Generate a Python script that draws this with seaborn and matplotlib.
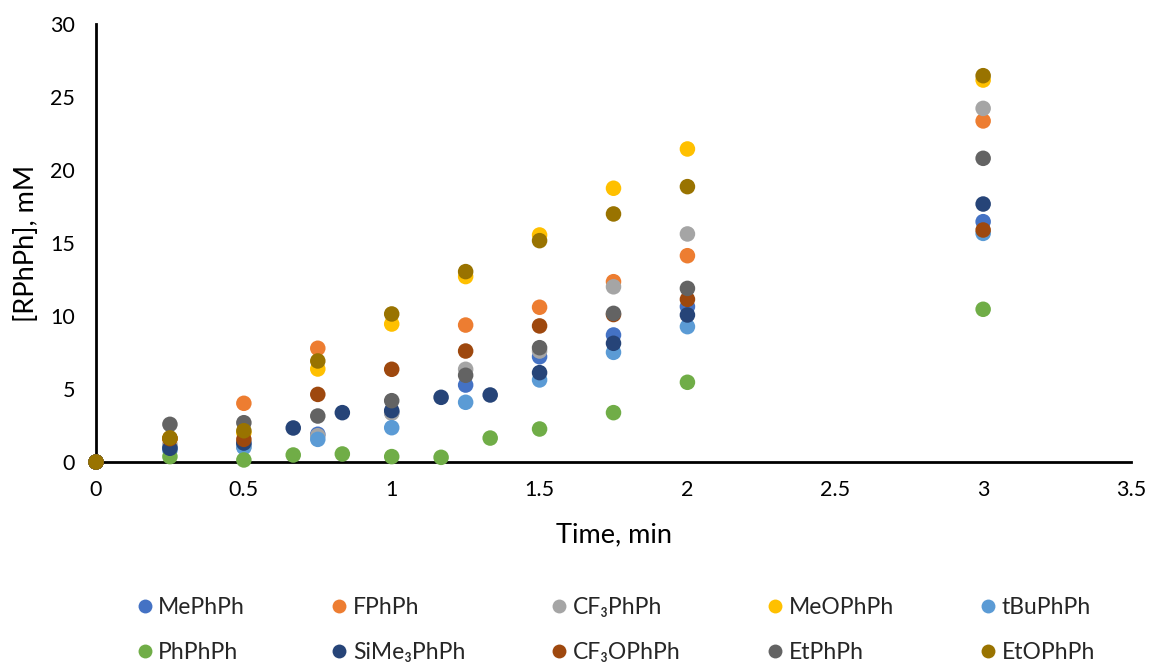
import numpy as np
import pandas as pd
import matplotlib
matplotlib.use("Agg")
import matplotlib.pyplot as plt
import seaborn as sns

# Sampling times (min)
t_main = [0, 0.25, 0.5, 0.75, 1, 1.25, 1.5, 1.75, 2, 3]
t_fine = [0, 0.25, 0.5, 0.667, 0.833, 1, 1.167, 1.333, 1.5, 1.75, 2, 3]

# Product concentrations (mM)
me_phph    = [0, 1.0, 1.2, 1.9, 3.4, 5.27, 7.21, 8.7, 10.64, 16.46]
f_phph     = [0, 1.6, 4.02, 7.79, np.nan, 9.38, 10.6, 12.35, 14.13, 23.36]
cf3_phph   = [0, 1.2, 1.05, 1.8, 3.35, 6.35, 7.6, 12.0, 15.62, 24.22]
meo_phph   = [0, 1.6, 2.0, 6.37, 9.45, 12.7, 15.55, 18.75, 21.44, 26.16]
tbu_phph   = [0, 0.8, 1.0, 1.55, 2.35, 4.09, 5.62, 7.51, 9.27, 15.66]
ph_phph    = [0, 0.37, 0.14, 0.48, 0.55, 0.37, 0.32, 1.64, 2.26, 3.38, 5.46, 10.46]
sime3_phph = [0, 0.94, 1.3, 2.33, 3.38, 3.52, 4.43, 4.59, 6.12, 8.13, 10.07, 17.67]
cf3o_phph  = [0, 1.6, 1.55, 4.63, 6.35, 7.6, 9.32, 10.1, 11.14, 15.89]
et_phph    = [0, 2.58, 2.69, 3.15, 4.2, 5.94, 7.83, 10.18, 11.89, 20.8]
eto_phph   = [0, 1.65, 2.14, 6.92, 10.14, 13.04, 15.16, 16.99, 18.86, 26.46]

series_names = ["MePhPh", "FPhPh", "CF₃PhPh", "MeOPhPh", "tBuPhPh",
                "PhPhPh", "SiMe₃PhPh", "CF₃OPhPh", "EtPhPh", "EtOPhPh"]
series_times = [t_main, t_main, t_main, t_main, t_main,
                t_fine, t_fine, t_main, t_main, t_main]
series_vals = [me_phph, f_phph, cf3_phph, meo_phph, tbu_phph,
               ph_phph, sime3_phph, cf3o_phph, et_phph, eto_phph]
colors = ["#4472C4", "#ED7D31", "#A5A5A5", "#FFC000", "#5B9BD5",
          "#70AD47", "#264478", "#9E480E", "#636363", "#997300"]

frames = []
for name, tt, vv in zip(series_names, series_times, series_vals):
    frames.append(pd.DataFrame({"Time": tt, "Conc": vv, "Series": name}))
df = pd.concat(frames, ignore_index=True).dropna()

sns.set_theme(style="white")
plt.rcParams["font.family"] = ["Lato", "DejaVu Sans"]

fig = plt.figure(figsize=(11.49, 6.63), dpi=100)
ax = fig.add_axes([96 / 1149, 1 - 462 / 663, (1131 - 96) / 1149, (462 - 24) / 663])

sns.scatterplot(data=df, x="Time", y="Conc", hue="Series",
                hue_order=series_names, palette=dict(zip(series_names, colors)),
                s=125, linewidth=0, alpha=1, ax=ax, legend=False, clip_on=False)

ax.set_xlim(0, 3.5)
ax.set_ylim(0, 30)
ax.set_xticks(np.arange(0, 3.51, 0.5))
ax.set_xticklabels(["0", "0.5", "1", "1.5", "2", "2.5", "3", "3.5"])
ax.set_yticks(np.arange(0, 31, 5))
ax.tick_params(axis="x", length=0, pad=13, labelsize=15.5, colors="#000000")
ax.tick_params(axis="y", length=0, pad=15, labelsize=15.5, colors="#000000")
for side in ["top", "right"]:
    ax.spines[side].set_visible(False)
for side in ["left", "bottom"]:
    ax.spines[side].set_color("black")
    ax.spines[side].set_linewidth(2)
    ax.spines[side].set_zorder(0.5)
ax.set_xlabel("Time, min", fontsize=19.5, labelpad=16, color="#000000")
ax.set_ylabel("[RPhPh], mM", fontsize=19.5, labelpad=8, color="#000000")

# Legend laid out row by row: matplotlib fills columns first, so interleave
handles = [plt.Line2D([], [], marker="o", linestyle="", markersize=10,
                      markerfacecolor=c, markeredgewidth=0) for c in colors]
order = [0, 5, 1, 6, 2, 7, 3, 8, 4, 9]
fig.legend([handles[i] for i in order], [series_names[i] for i in order],
           loc="center", ncol=5,
           bbox_to_anchor=(614 / 1149, 1 - 630 / 663), frameon=False,
           fontsize=16.5, handletextpad=0.1, columnspacing=3.6,
           labelspacing=1.07, handlelength=1.0)

fig.savefig("out.png", dpi=100, facecolor="white")
